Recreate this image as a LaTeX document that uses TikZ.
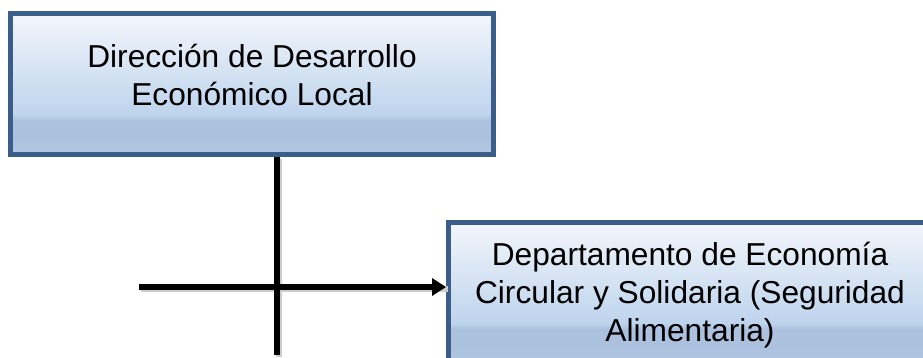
\documentclass[tikz,border=0pt]{standalone}
\usepackage{fontspec}
\setmainfont{Liberation Sans}
\usetikzlibrary{positioning,arrows.meta}
\definecolor{orgborder}{RGB}{59,93,138}
\definecolor{orgtop}{RGB}{243,246,251}
\definecolor{orgmid}{RGB}{190,212,237}
\definecolor{orgband}{RGB}{171,193,222}
\definecolor{orgbot}{RGB}{179,199,227}
\pgfdeclareverticalshading{orgfill}{100bp}{color(0bp)=(orgbot); color(25bp)=(orgbot); color(31bp)=(orgband); color(37bp)=(orgband); color(39bp)=(orgmid); color(75bp)=(orgtop); color(100bp)=(orgtop)}

\begin{document}
\begin{tikzpicture}[x=1pt,y=-1pt,
  orgbox/.style={draw=orgborder,line width=5pt,shading=orgfill,inner sep=0pt},
  orgtext/.style={font=\fontsize{31.7}{38}\selectfont,align=center,inner sep=0pt,anchor=north},
  link/.style={line width=5.5pt},
  linkshadow/.style={line width=6pt,black!20,transform canvas={shift={(1.5pt,-2pt)}}}]
  \useasboundingbox (0,0) rectangle (923,358);
  % boxes
  \node[orgbox,minimum width=483pt,minimum height=141pt] (dir) at (251.5,84) {};
  \node[orgtext] (dirtxt) at (252,44) {Dirección de Desarrollo\\Económico Local};
  \node[orgbox,minimum width=486pt,minimum height=140pt] (dep) at (691.5,292.5) {};
  \node[orgtext] (deptxt) at (690,242) {Departamento de Economía\\Circular y Solidaria (Seguridad\\Alimentaria)};
  % connectors
  \coordinate (vend) at (277,355);
  \coordinate (hstart) at (139,287);
  \draw[linkshadow] (dir.south -| vend) -- (vend);
  \draw[linkshadow] (hstart) -- (hstart -| dep.west);
  \draw[link] (dir.south -| vend) -- (vend);
  \draw[link,-{Triangle[length=14pt,width=17pt]}] (hstart) -- (hstart -| dep.west);
\end{tikzpicture}
\end{document}
